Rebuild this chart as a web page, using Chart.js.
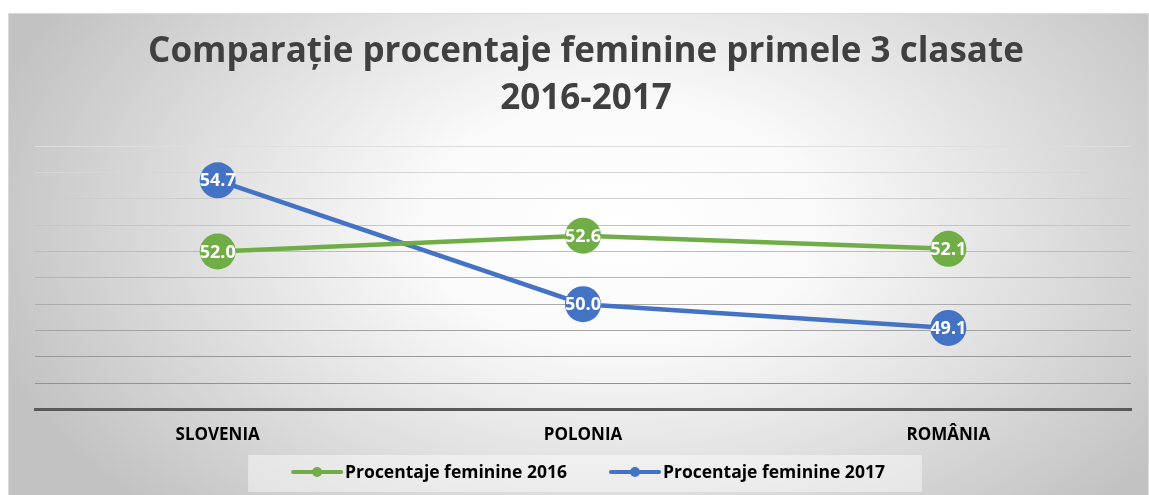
<!DOCTYPE html>
<html>
<head>
<meta charset="utf-8">
<title>Comparatie procentaje feminine</title>
<script src="https://cdn.jsdelivr.net/npm/chart.js@4/dist/chart.umd.min.js"></script>
<style>
    body{ margin:0; background:#ffffff; }
    #chartBox{ position:absolute; left:8px; top:13px; width:1141px; height:482px; }
</style>
</head>
<body>
<div id="chartBox"><canvas id="femChart" width="1141" height="482"></canvas></div>
<script>

    //  ==================== DATA ====================
    let countries = ['SLOVENIA', 'POLONIA', 'ROMÂNIA'];
    let fem2016 = [52.0, 52.6, 52.1];
    let fem2017 = [54.7, 50.0, 49.1];
    let seriesNames = ['Procentaje feminine 2016', 'Procentaje feminine 2017'];
    let titleLines = ['Comparație procentaje feminine primele 3 clasate', '2016-2017'];
    let yMin = 46;
    let yMax = 56;

    let green = '#70AD47';
    let blue = '#4472C4';


    //  ==================== PLUGINS ====================
    // background gradient
    let bgPlugin = {
        id: 'bgPlugin',
        beforeDraw: function(chart){
            let ctx = chart.ctx;
            let w = chart.width, h = chart.height;
            ctx.save();
            ctx.translate(610, 210);
            ctx.scale(1, 0.62);
            let grad = ctx.createRadialGradient(0, 0, 0, 0, 0, 660);
            grad.addColorStop(0, '#ffffff');
            grad.addColorStop(0.3, '#fafafa');
            grad.addColorStop(1, '#c2c2c2');
            ctx.fillStyle = grad;
            ctx.fillRect(-700, -500, 1600, 1400);
            ctx.restore();

            ctx.save();
            ctx.strokeStyle = '#d9d9d9';
            ctx.lineWidth = 1;
            ctx.strokeRect(0.5, 0.5, w - 1, h);
            ctx.restore();
        }
    };

    // values written inside the markers
    let valueLabels = {
        id: 'valueLabels',
        afterDatasetsDraw: function(chart){
            let ctx = chart.ctx;
            ctx.save();
            ctx.font = 'bold 18px "Open Sans"';
            ctx.fillStyle = '#ffffff';
            ctx.textAlign = 'center';
            ctx.textBaseline = 'middle';
            chart.data.datasets.forEach(function(ds, i){
                let meta = chart.getDatasetMeta(i);
                meta.data.forEach(function(pt, j){
                    ctx.fillText(ds.data[j].toFixed(1), pt.x, pt.y + 1);
                });
            });
            ctx.restore();
        }
    };

    // legend: line + dot marker, inside a light box
    let lineLegend = {
        id: 'lineLegend',
        afterDraw: function(chart){
            let ctx = chart.ctx;
            let datasets = chart.data.datasets;
            let markW = 52, gap = 42;
            let cy = 459;
            ctx.save();
            ctx.font = 'bold 17.5px "Open Sans"';
            let total = 0;
            let widths = datasets.map(function(ds){
                return ctx.measureText(ds.label).width;
            });
            widths.forEach(function(tw, i){
                total += markW + 2 + tw + (i > 0 ? gap : 0);
            });
            let x = 580 - total / 2;

            ctx.fillStyle = 'rgba(255,255,255,0.45)';
            ctx.fillRect(x - 43, cy - 17, total + 80, 37);

            datasets.forEach(function(ds, i){
                ctx.strokeStyle = ds.borderColor;
                ctx.lineWidth = 4;
                ctx.lineCap = 'round';
                ctx.beginPath();
                ctx.moveTo(x + 2, cy);
                ctx.lineTo(x + markW - 2, cy);
                ctx.stroke();
                ctx.fillStyle = ds.borderColor;
                ctx.beginPath();
                ctx.arc(x + markW / 2, cy, 5, 0, Math.PI * 2);
                ctx.fill();

                ctx.fillStyle = '#000000';
                ctx.textAlign = 'left';
                ctx.textBaseline = 'middle';
                ctx.fillText(ds.label, x + markW + 2, cy + 1);
                x += markW + 2 + widths[i] + gap;
            });
            ctx.restore();
        }
    };


    //  ============================ CHART ============================
    let femChartCtx = document.getElementById('femChart');
    let femChart = new Chart(femChartCtx, {
        type: 'line',
        data: {
            labels: countries,
            datasets: [
                {
                    label: seriesNames[0],
                    data: fem2016,
                    borderColor: green,
                    backgroundColor: green,
                    borderWidth: 4.5,
                    pointRadius: 18,
                    pointHoverRadius: 18,
                    pointBorderWidth: 0,
                    tension: 0,
                    fill: false
                },
                {
                    label: seriesNames[1],
                    data: fem2017,
                    borderColor: blue,
                    backgroundColor: blue,
                    borderWidth: 4.5,
                    pointRadius: 18,
                    pointHoverRadius: 18,
                    pointBorderWidth: 0,
                    tension: 0,
                    fill: false
                }
            ]
        },
        options: {
            responsive: false,
            animation: false,
            layout: {
                padding: { left: 27, right: 12, top: 0, bottom: 35 }
            },
            scales: {
                x: {
                    offset: true,
                    grid: { display: false, drawTicks: false },
                    border: { display: true, color: '#595959', width: 3 },
                    ticks: {
                        padding: 15,
                        color: '#000000',
                        font: { family: 'Open Sans', size: 17, weight: 'bold' }
                    }
                },
                y: {
                    min: yMin,
                    max: yMax,
                    ticks: { display: false, stepSize: 1 },
                    border: { display: false },
                    grid: {
                        drawTicks: false,
                        lineWidth: 1,
                        color: function(context){
                            let v = context.tick ? context.tick.value : yMax;
                            let t = (yMax - v) / (yMax - yMin);
                            let c = Math.round(222 - t * 85);
                            return 'rgb(' + c + ',' + c + ',' + c + ')';
                        }
                    }
                }
            },
            plugins: {
                title: {
                    display: true,
                    text: titleLines,
                    color: '#404040',
                    font: { family: 'Open Sans', size: 35, weight: 'bold', lineHeight: 1.343 },
                    padding: { top: 16, bottom: 23 }
                },
                legend: { display: false },
                tooltip: { enabled: false }
            }
        },
        plugins: [bgPlugin, valueLabels, lineLegend]
    });

</script>
</body>
</html>
